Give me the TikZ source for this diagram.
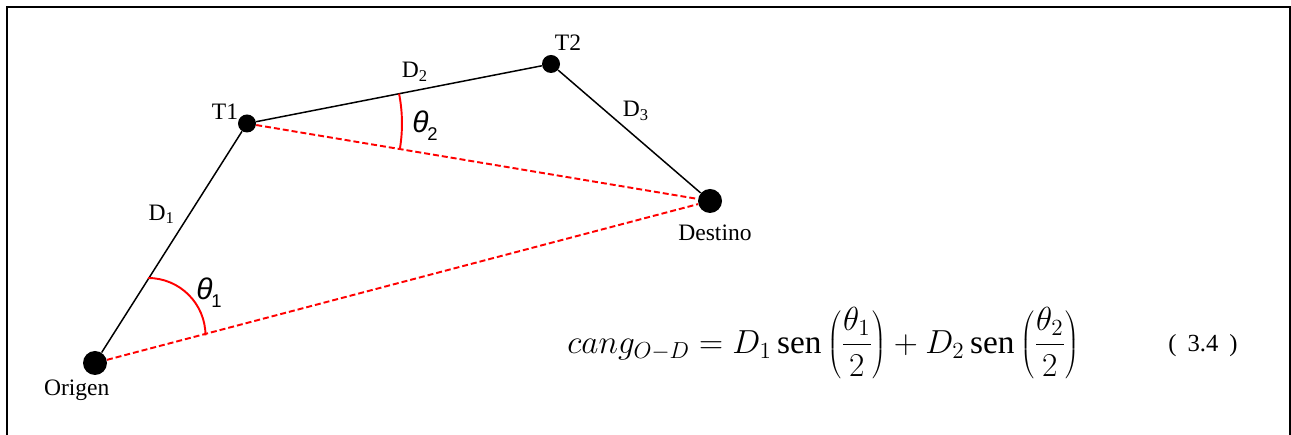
\documentclass[tikz,border=0pt]{standalone}
\usepackage{fontspec}
\setmainfont{Liberation Serif}
\newfontfamily\thetafont{Liberation Sans}
\newfontfamily\eqtextfont{Liberation Serif}
\newcommand{\thlabel}[1]{{\thetafont\fontsize{17}{20}\selectfont\itshape θ}\kern-0.6pt\raisebox{-4.5pt}{\thetafont\fontsize{10.5}{12}\selectfont #1}}
\newcommand{\senop}{\mbox{\eqtextfont\fontsize{20.74}{25}\selectfont sen}}
\begin{document}
\begin{tikzpicture}[x=0.02cm,y=0.02cm,
  dot/.style={circle,fill=black,inner sep=0pt,minimum size=#1},
  lbl/.style={inner sep=0pt,font=\fontsize{13.4}{16}\selectfont},
  thl/.style={inner sep=0pt},
  segm/.style={line width=0.85pt,black},
  chord/.style={red,line width=1.1pt,dash pattern=on 3.4pt off 1.7pt},
  angarc/.style={red,line width=1.1pt}]
\useasboundingbox (0,0) rectangle (1291,435);
\clip (0,0) rectangle (1291,435);
% frame (open at the bottom, cut by the page)
\draw[line width=1.13pt] (6.7,-20) -- (6.7,427.7) -- (1289.5,427.7) -- (1289.5,-20);
% points
\node[dot=0.48cm] (O) at (95,72) {};
\node[dot=0.36cm] (T1) at (247,311.5) {};
\node[dot=0.36cm] (T2) at (551,371) {};
\node[dot=0.48cm] (Dst) at (710,234) {};
% segments
\draw[segm] (O) -- (T1);
\draw[segm] (T1) -- (T2);
\draw[segm] (T2) -- (Dst);
\draw[chord] (T1) -- (Dst);
\draw[chord] (O) -- (Dst);
% angles
\draw[angarc] (148,157) arc[start angle=90,end angle=0,radius=1.15cm];
\draw[angarc] ([shift={(-9.5:3.1cm)}]T1.center) arc[start angle=-9.5,end angle=11.1,radius=3.1cm];
% labels
\node[lbl] (lT1) at (225,323.3) {T1};
\node[lbl] (lT2) at (568,392) {T2};
\node[lbl] (lD1) at (161.7,220.7) {D\textsubscript{1}};
\node[lbl] (lD2) at (415,363.3) {D\textsubscript{2}};
\node[lbl] (lD3) at (636,324) {D\textsubscript{3}};
\node[lbl] (lDst) at (715,202) {Destino};
\node[lbl] (lO) at (76.7,44.3) {Origen};
\node[thl] (th1) at (209,142) {\thlabel{1}};
\node[thl] (th2) at (425,309) {\thlabel{2}};
% equation
\node[anchor=west,inner sep=0pt] (eq) at (567,92) {\scalebox{0.915}{\fontsize{20.74}{25}\selectfont $\displaystyle cang_{O-D}=D_1\,\senop\left(\frac{\theta_1}{2}\right)+D_2\,\senop\left(\frac{\theta_2}{2}\right)$}};
\node[inner sep=0pt,font=\fontsize{14}{16}\selectfont\eqtextfont] (eqn) at (1203,89) {(\hspace{0.45em}3.4\hspace{0.45em})};
\end{tikzpicture}
\end{document}
